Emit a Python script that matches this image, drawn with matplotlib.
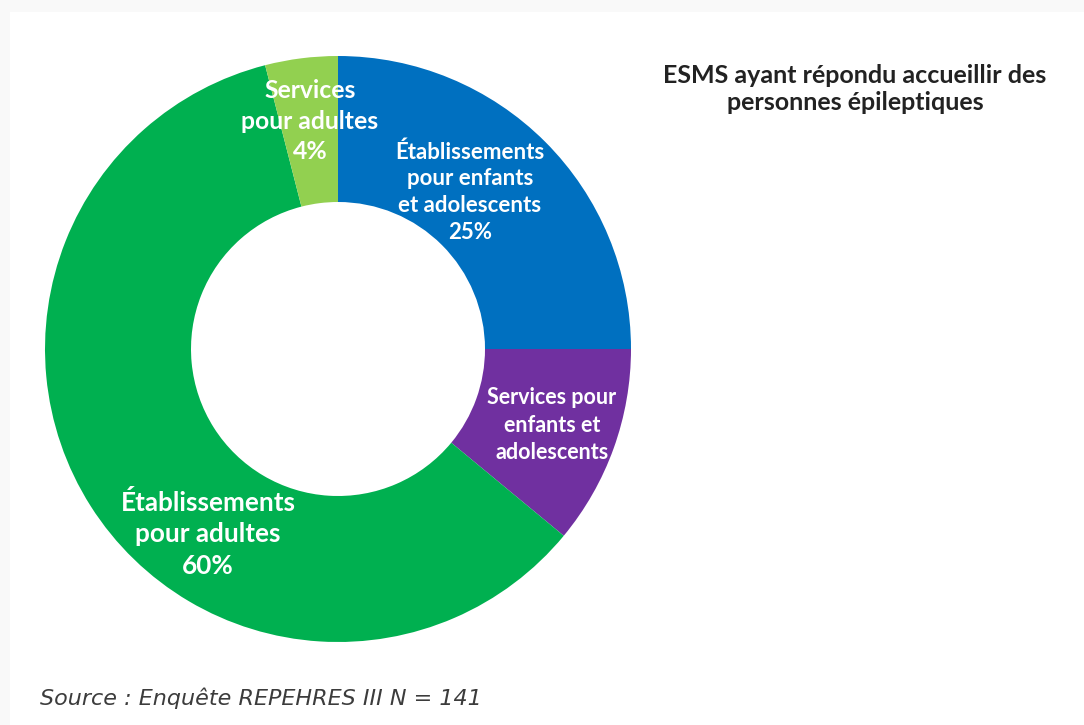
import matplotlib
matplotlib.use("Agg")
import matplotlib.pyplot as plt
from matplotlib.patches import Rectangle

# données
categories = ["Établissements\npour enfants\net adolescents",
              "Services pour\nenfants et\nadolescents",
              "Établissements\npour adultes",
              "Services\npour adultes"]
parts = [25, 11, 60, 4]
show_pct = [True, False, True, True]
colors = ["#0070C0", "#7030A0", "#00B050", "#92D050"]

titre = "ESMS ayant répondu accueillir des\npersonnes épileptiques"
source = "Source : Enquête REPEHRES III N = 141"

# positions des étiquettes (pixels, origine en haut à gauche) et tailles
label_pos = [(470, 192), (552, 425), (208, 534), (310, 121)]
label_size = [16.0, 15.5, 18.8, 17.8]
label_spacing = [1.34, 1.38, 1.39, 1.42]

W, H = 1084, 725
fig = plt.figure(figsize=(W / 100, H / 100), dpi=100, facecolor="#f9f9f9")
ax = fig.add_axes([0, 0, 1, 1])
ax.add_patch(Rectangle((10, 0), W, H - 12, facecolor="white", edgecolor="none", zorder=0))

cx, cy, r = 338, H - 349, 293
wedges, _ = ax.pie(parts, colors=colors, startangle=90, counterclock=False,
                   center=(cx, cy), radius=r,
                   wedgeprops=dict(width=r - 147, edgecolor="none"))
for w in wedges:
    w.set_zorder(2)

for cat, v, pct, (x, y), fs, ls in zip(categories, parts, show_pct, label_pos,
                                       label_size, label_spacing):
    txt = cat + (f"\n{v}%" if pct else "")
    ax.text(x, H - y, txt, ha="center", va="center", color="white",
            fontsize=fs, fontweight="bold", family="Lato", linespacing=ls, zorder=3)

ax.text(855, H - 89, titre, ha="center", va="center", fontsize=18,
        fontweight="bold", family="Lato", color="#222222", linespacing=1.19)
ax.text(40, H - 698, source, ha="left", va="center", fontsize=16,
        style="italic", family="DejaVu Sans", color="#3c3c3c")

ax.set_xlim(0, W)
ax.set_ylim(0, H)
ax.set_aspect("equal")
ax.axis("off")

fig.savefig("out.png", dpi=100, facecolor=fig.get_facecolor())
